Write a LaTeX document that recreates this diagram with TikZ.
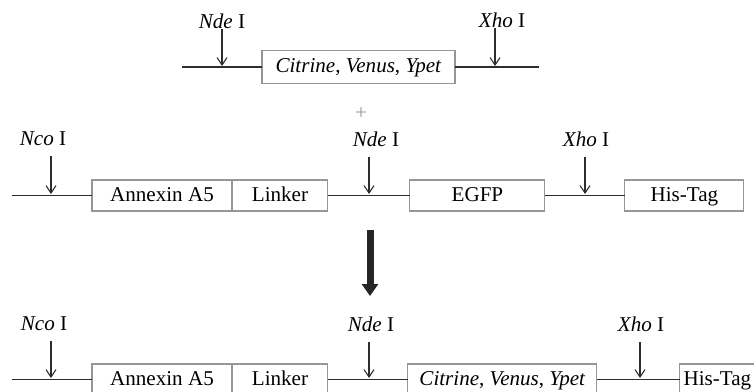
\documentclass[tikz,border=0pt]{standalone}
\usepackage{fontspec}
\setmainfont{Liberation Serif}
\usepackage{xcolor}
\usetikzlibrary{arrows.meta,positioning}
\definecolor{boxGray}{RGB}{150,150,150}
\definecolor{lineDark}{RGB}{45,45,45}

\begin{document}
\begin{tikzpicture}[
    x=0.02cm, y=-0.02cm,
    node distance=0pt,
    part/.style={rectangle, draw=boxGray, line width=0.6pt, minimum height=0.62cm, inner sep=0pt, outer sep=0pt, text height=0.66em, text depth=0pt, font=\fontsize{12}{14}\selectfont},
    site/.style={inner sep=0pt, font=\fontsize{12}{14}\selectfont},
    cut/.style={-{Straight Barb[length=1.5mm,width=2mm]}, draw=lineDark, line width=0.6pt},
    seq/.style={draw=lineDark, line width=1.1pt}
]
\useasboundingbox (0,0) rectangle (754,392);
\clip (0,0) rectangle (754,392);
% insert
\node[part, minimum width=3.86cm, minimum height=0.66cm] (fpA) at (358.5,67) {\textit{Citrine}, \textit{Venus}, \textit{Ypet}};
\coordinate (leftA) at (182,67);
\coordinate (rightA) at (539,67);
\draw[seq] (leftA) -- (fpA);
\draw[seq] (fpA) -- (rightA);
\coordinate (ndeA) at (222,66);
\coordinate (xhoA) at (495,66);
\node[site] (ndeLabA) at (222,21) {\textit{Nde} I};
\node[site] (xhoLabA) at (502,20) {\textit{Xho} I};
\draw[cut] (ndeLabA.south -| ndeA) -- (ndeA);
\draw[cut] (xhoLabA.south -| xhoA) -- (xhoA);
\node[text=boxGray, font=\fontsize{12}{14}\selectfont] (plus) at (361,114) {+};
% vector
\node[part, minimum width=2.8cm] (annexB) at (162,195.5) {Annexin A5};
\node[part, minimum width=1.92cm, right=of annexB] (linkB) {Linker};
\node[part, minimum width=2.7cm, right=1.64cm of linkB] (egfpB) {EGFP};
\node[part, minimum width=2.38cm, right=1.6cm of egfpB] (hisB) {His-Tag};
\coordinate (leftB) at (12,195.5);
\draw[seq] (leftB) -- (annexB);
\draw[seq] (linkB) -- (egfpB);
\draw[seq] (egfpB) -- (hisB);
\coordinate (ncoB) at (51,194);
\coordinate (ndeB) at (369,194);
\coordinate (xhoB) at (585,194);
\node[site] (ncoLabB) at (43,139) {\textit{Nco} I};
\node[site] (ndeLabB) at (376,139) {\textit{Nde} I};
\node[site] (xhoLabB) at (586,139) {\textit{Xho} I};
\draw[cut, shorten <=0.2cm] (ncoLabB.south -| ncoB) -- (ncoB);
\draw[cut, shorten <=0.2cm] (ndeLabB.south -| ndeB) -- (ndeB);
\draw[cut, shorten <=0.2cm] (xhoLabB.south -| xhoB) -- (xhoB);
% ligation
\coordinate (downTop) at (370,230);
\coordinate (downEnd) at (370,296);
\draw[-{Triangle[length=0.24cm,width=0.32cm]}, draw=black!85, line width=0.14cm] (downTop) -- (downEnd);
% product
\node[part, minimum width=2.8cm] (annexC) at (162,379.5) {Annexin A5};
\node[part, minimum width=1.92cm, right=of annexC] (linkC) {Linker};
\node[part, minimum width=3.78cm, right=1.6cm of linkC] (fpC) {\textit{Citrine}, \textit{Venus}, \textit{Ypet}};
\node[part, minimum width=1.5cm, right=1.66cm of fpC] (hisC) {His-Tag};
\coordinate (leftC) at (12,379.5);
\draw[seq] (leftC) -- (annexC);
\draw[seq] (linkC) -- (fpC);
\draw[seq] (fpC) -- (hisC);
\coordinate (ncoC) at (51,378);
\coordinate (ndeC) at (369,378);
\coordinate (xhoC) at (640,378);
\node[site] (ncoLabC) at (44,324) {\textit{Nco} I};
\node[site] (ndeLabC) at (371,324) {\textit{Nde} I};
\node[site] (xhoLabC) at (641,324) {\textit{Xho} I};
\draw[cut, shorten <=0.2cm] (ncoLabC.south -| ncoC) -- (ncoC);
\draw[cut, shorten <=0.2cm] (ndeLabC.south -| ndeC) -- (ndeC);
\draw[cut, shorten <=0.2cm] (xhoLabC.south -| xhoC) -- (xhoC);
\end{tikzpicture}
\end{document}
